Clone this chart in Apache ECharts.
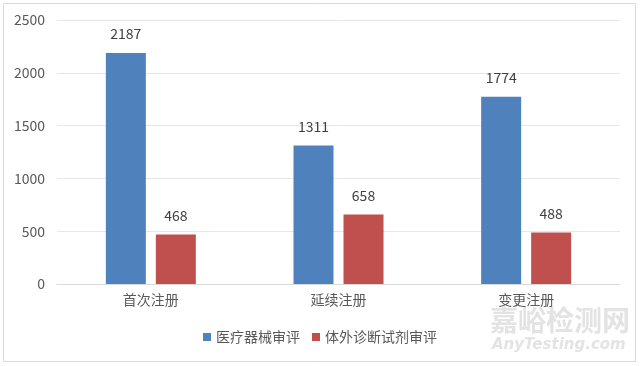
<!DOCTYPE html>
<html><head><meta charset="utf-8">
<script src="https://cdn.jsdelivr.net/npm/echarts@6/dist/echarts.min.js"></script>
<style>html,body{margin:0;padding:0;background:#fff}#c{width:640px;height:366px}</style>
</head><body><div id="c"></div>
<script>
const categories = ['首次注册', '延续注册', '变更注册'];
const seriesNames = ['医疗器械审评', '体外诊断试剂审评'];
const deviceValues = [2187, 1311, 1774];
const ivdValues = [468, 658, 488];
const yTicks = [0, 500, 1000, 1500, 2000, 2500];

const font = '"Noto Sans CJK SC", "Microsoft YaHei", sans-serif';
const chart = echarts.init(document.getElementById('c'));
chart.setOption({
  animation: false,
  textStyle: { fontFamily: font },
  graphic: [
    { type: 'rect', shape: { x: 3.5, y: 3.5, width: 632, height: 358 }, style: { fill: 'none', stroke: '#d9d9d9', lineWidth: 1 } },
    { type: 'text', left: 490, top: 306, style: { text: '嘉峪检测网', fontSize: 28, fill: '#e3e3e3', fontFamily: font, fontWeight: 'bold' }, z: -1 },
    { type: 'text', left: 492, top: 338, style: { text: 'AnyTesting.com', fontSize: 15, fontStyle: 'italic', fontWeight: 'bold', fill: '#e3e3e3', fontFamily: '"DejaVu Sans", sans-serif' }, z: -1 }
  ],
  grid: { left: 57, right: 20, top: 20, bottom: 82 },
  legend: {
    data: seriesNames,
    bottom: 17,
    left: 'center',
    itemWidth: 8, itemHeight: 8, itemGap: 12,
    icon: 'rect',
    textStyle: { color: '#595959', fontSize: 14, fontFamily: font }
  },
  xAxis: {
    type: 'category',
    data: categories,
    axisLine: { lineStyle: { color: '#d9d9d9' } },
    axisTick: { show: false },
    axisLabel: { color: '#595959', fontSize: 14, margin: 9, fontFamily: font }
  },
  yAxis: {
    type: 'value',
    min: yTicks[0], max: yTicks[yTicks.length - 1], interval: 500,
    axisLine: { show: false },
    axisTick: { show: false },
    splitLine: { lineStyle: { color: '#e6e6e6' } },
    axisLabel: { color: '#595959', fontSize: 14, margin: 12, fontFamily: font, formatter: v => String(v) }
  },
  series: [
    { name: seriesNames[0], type: 'bar', data: deviceValues, barWidth: 40, barGap: '25%',
      itemStyle: { color: '#4f81bd' },
      label: { show: true, position: 'top', distance: 12, color: '#404040', fontSize: 14, fontFamily: font } },
    { name: seriesNames[1], type: 'bar', data: ivdValues, barWidth: 40,
      itemStyle: { color: '#c0504d' },
      label: { show: true, position: 'top', distance: 12, color: '#404040', fontSize: 14, fontFamily: font } }
  ]
});
</script></body></html>
